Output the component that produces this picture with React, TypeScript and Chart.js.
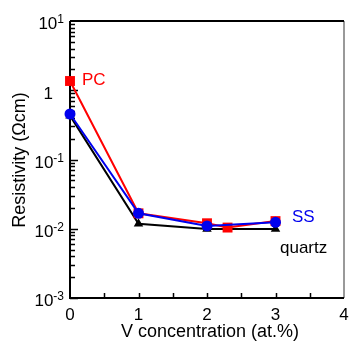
import React, { useEffect, useRef } from "react";
import { Chart, registerables } from "chart.js";

Chart.register(...registerables);

const pcX = [0, 1, 2, 2.3, 3];
const pcY = [1.36, 0.0167, 0.012, 0.0104, 0.0129];
const ssX = [0, 1, 2, 3];
const ssY = [0.454, 0.0167, 0.011, 0.0124];
const qzX = [0, 1, 2, 3];
const qzY = [0.43, 0.0118, 0.0099, 0.0099];

const xTicks = [0, 1, 2, 3, 4];
const xMinor = [0.5, 1, 1.5, 2, 2.5, 3, 3.5];
const yDecades = [-3, -2, -1, 0, 1];

const FONT = "'Liberation Sans', Arial, sans-serif";

const decorPlugin = {
  id: "decor",
  beforeDatasetsDraw(chart: any) {
    const { ctx, chartArea: a, scales } = chart;
    const xs = scales.x;
    const ys = scales.y;
    ctx.save();
    ctx.lineWidth = 2;
    ctx.strokeStyle = "#999999";
    ctx.beginPath();
    ctx.moveTo(a.right, a.top);
    ctx.lineTo(a.right, a.bottom);
    ctx.stroke();
    ctx.strokeStyle = "#000";
    ctx.beginPath();
    ctx.moveTo(a.left, a.top);
    ctx.lineTo(a.right, a.top);
    ctx.moveTo(a.left, a.top);
    ctx.lineTo(a.left, a.bottom);
    ctx.lineTo(a.right, a.bottom);
    ctx.stroke();
    ctx.lineWidth = 1.5;
    ctx.beginPath();
    for (let d = -3; d <= 0; d++) {
      for (let m = 1; m <= 9; m++) {
        const v = m * Math.pow(10, d);
        const py = Math.round(ys.getPixelForValue(v)) + 0.5;
        const len = m === 1 ? 8 : 5;
        ctx.moveTo(a.left, py);
        ctx.lineTo(a.left + len, py);
      }
    }
    for (const t of xMinor) {
      const px = Math.round(xs.getPixelForValue(t)) + 0.5;
      ctx.moveTo(px, a.bottom);
      ctx.lineTo(px, a.bottom - 5);
    }
    ctx.stroke();
    ctx.restore();
  },
  afterDatasetsDraw(chart: any) {
    const { ctx, scales } = chart;
    const xs = scales.x;
    const ys = scales.y;
    ctx.save();
    ctx.fillStyle = "#000";
    for (const d of yDecades) {
      const py = ys.getPixelForValue(Math.pow(10, d));
      if (d === 0) {
        ctx.font = `17px ${FONT}`;
        ctx.textAlign = "right";
        ctx.textBaseline = "alphabetic";
        ctx.fillText("1", 53, py + 9);
        continue;
      }
      const sup = d < 0 ? "-" + String(-d) : String(d);
      ctx.font = `12px ${FONT}`;
      const ws = ctx.measureText(sup).width;
      ctx.font = `17px ${FONT}`;
      const wb = ctx.measureText("10").width;
      const right = 64;
      ctx.textAlign = "left";
      ctx.textBaseline = "alphabetic";
      ctx.fillText("10", right - ws - wb, py + 8);
      ctx.font = `12px ${FONT}`;
      ctx.fillText(sup, right - ws, py + 2);
    }
    ctx.font = `17px ${FONT}`;
    ctx.textAlign = "center";
    ctx.textBaseline = "alphabetic";
    for (const t of xTicks) {
      ctx.fillText(String(t), xs.getPixelForValue(t), 320);
    }
    ctx.font = `18px ${FONT}`;
    ctx.fillText("V concentration (at.%)", 210, 337);
    ctx.save();
    ctx.translate(20, 160);
    ctx.rotate(-Math.PI / 2);
    ctx.textAlign = "center";
    ctx.textBaseline = "middle";
    ctx.fillText("Resistivity (\u03A9cm)", 0, 0);
    ctx.restore();
    ctx.font = `17px ${FONT}`;
    ctx.textAlign = "left";
    ctx.fillStyle = "#ff0000";
    ctx.fillText("PC", 82, 85);
    ctx.fillStyle = "#0000ee";
    ctx.fillText("SS", 292, 222);
    ctx.fillStyle = "#000";
    ctx.fillText("quartz", 280, 253);
    ctx.restore();
  },
};

export default function App() {
  const ref = useRef<HTMLCanvasElement | null>(null);
  useEffect(() => {
    document.body.style.margin = "0";
    const canvas = ref.current;
    if (!canvas) return;
    const mk = (xs: number[], ys: number[]) => xs.map((x, i) => ({ x, y: ys[i] }));
    const chart = new Chart(canvas, {
      type: "line",
      data: {
        datasets: [
          {
            label: "SS",
            data: mk(ssX, ssY),
            borderColor: "#0000ee",
            backgroundColor: "#0000ee",
            borderWidth: 2,
            pointStyle: "circle",
            pointRadius: 5.5,
            pointBorderWidth: 0,
            clip: false,
            order: 0,
          },
          {
            label: "PC",
            data: mk(pcX, pcY),
            borderColor: "#ff0000",
            backgroundColor: "#ff0000",
            borderWidth: 2,
            pointStyle: "rect",
            pointRadius: 7,
            pointBorderWidth: 0,
            clip: false,
            order: 1,
          },
          {
            label: "quartz",
            data: mk(qzX, qzY),
            borderColor: "#000",
            backgroundColor: "#000",
            borderWidth: 2,
            pointStyle: "triangle",
            pointRadius: 5.5,
            pointBorderWidth: 0,
            clip: false,
            order: 2,
          },
        ],
      },
      options: {
        animation: false,
        responsive: false,
        layout: { padding: { left: 70, top: 21, right: 6, bottom: 45 } },
        scales: {
          x: { type: "linear", min: 0, max: 4, display: false },
          y: { type: "logarithmic", min: 0.001, max: 10, display: false },
        },
        plugins: { legend: { display: false }, tooltip: { enabled: false } },
      },
      plugins: [decorPlugin],
    });
    return () => chart.destroy();
  }, []);
  return (
    <div style={{ width: 351, height: 343 }}>
      <canvas ref={ref} width={351} height={343} />
    </div>
  );
}
